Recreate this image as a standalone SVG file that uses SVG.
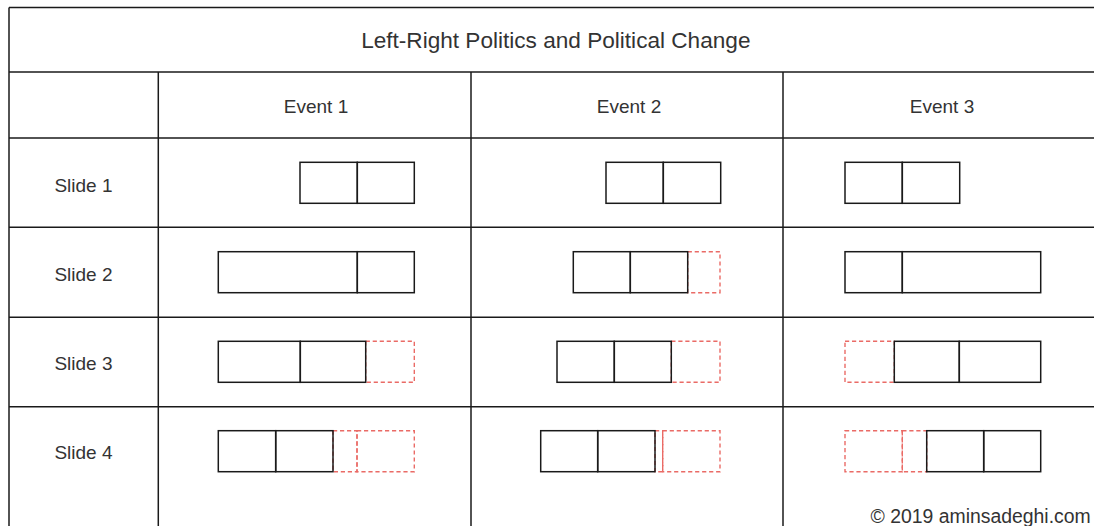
<svg xmlns="http://www.w3.org/2000/svg" width="1094" height="526" viewBox="0 0 1094 526">
  <style>
    .grid { stroke: #1a1a1a; stroke-width: 1.5; fill: none; }
    .box { stroke: #1a1a1a; stroke-width: 1.5; fill: none; }
    .gap { stroke: #EA6B66; stroke-width: 1.4; fill: none; stroke-dasharray: 4.2 2.8; }
    text { font-family: "Liberation Sans", Arial, sans-serif; fill: #333333; }
    .title { font-size: 22.6px; text-anchor: middle; }
    .head { font-size: 19px; text-anchor: middle; }
    .copy { font-size: 19.4px; text-anchor: start; }
  </style>
  <rect x="0" y="0" width="1094" height="526" fill="#ffffff"/>
  <g id="table-grid" class="grid">
    <line x1="9" y1="7.5" x2="1094" y2="7.5"/>
    <line x1="9" y1="72" x2="1094" y2="72"/>
    <line x1="9" y1="138" x2="1094" y2="138"/>
    <line x1="9" y1="227.3" x2="1094" y2="227.3"/>
    <line x1="9" y1="317.3" x2="1094" y2="317.3"/>
    <line x1="9" y1="406.7" x2="1094" y2="406.7"/>
    <line x1="9" y1="7.5" x2="9" y2="526"/>
    <line x1="158.3" y1="72" x2="158.3" y2="526"/>
    <line x1="471" y1="72" x2="471" y2="526"/>
    <line x1="783" y1="72" x2="783" y2="526"/>
  </g>
  <g id="title"><text class="title" x="555.8" y="47.7">Left-Right Politics and Political Change</text></g>
  <g id="event-1-header"><text class="head" x="316" y="112.7">Event 1</text></g>
  <g id="event-2-header"><text class="head" x="629" y="112.7">Event 2</text></g>
  <g id="event-3-header"><text class="head" x="942" y="112.7">Event 3</text></g>
  <g id="slide-1-label"><text class="head" x="83.5" y="191.7">Slide 1</text></g>
  <g id="slide-2-label"><text class="head" x="83.5" y="280.5">Slide 2</text></g>
  <g id="slide-3-label"><text class="head" x="83.5" y="370">Slide 3</text></g>
  <g id="slide-4-label"><text class="head" x="83.5" y="459">Slide 4</text></g>

  <!-- Event 1 -->
  <g id="e1-s1">
    <rect class="box" x="300" y="162.3" width="57.3" height="41"/>
    <rect class="box" x="357.3" y="162.3" width="57" height="41"/>
  </g>
  <g id="e1-s2">
    <rect class="box" x="218.3" y="251.7" width="139" height="41"/>
    <rect class="box" x="357.3" y="251.7" width="57" height="41"/>
  </g>
  <g id="e1-s3">
    <rect class="gap" x="365.7" y="341.3" width="48.6" height="41"/>
    <rect class="box" x="218.3" y="341.3" width="82" height="41"/>
    <rect class="box" x="300.3" y="341.3" width="65.4" height="41"/>
  </g>
  <g id="e1-s4">
    <rect class="gap" x="333" y="430.7" width="24" height="41"/>
    <rect class="gap" x="357" y="430.7" width="57.3" height="41"/>
    <rect class="box" x="218.3" y="430.7" width="57.4" height="41"/>
    <rect class="box" x="275.7" y="430.7" width="57.3" height="41"/>
  </g>

  <!-- Event 2 -->
  <g id="e2-s1">
    <rect class="box" x="606" y="162.3" width="57.3" height="41"/>
    <rect class="box" x="663.3" y="162.3" width="57.4" height="41"/>
  </g>
  <g id="e2-s2">
    <rect class="gap" x="687.7" y="251.7" width="32.3" height="41"/>
    <rect class="box" x="573.3" y="251.7" width="57" height="41"/>
    <rect class="box" x="630.3" y="251.7" width="57.4" height="41"/>
  </g>
  <g id="e2-s3">
    <rect class="gap" x="671.3" y="341.3" width="48.7" height="41"/>
    <rect class="box" x="557" y="341.3" width="57.3" height="41"/>
    <rect class="box" x="614.3" y="341.3" width="57" height="41"/>
  </g>
  <g id="e2-s4">
    <rect class="gap" x="655" y="430.7" width="7.7" height="41"/>
    <rect class="gap" x="662.7" y="430.7" width="57.3" height="41"/>
    <rect class="box" x="540.7" y="430.7" width="57" height="41"/>
    <rect class="box" x="597.7" y="430.7" width="57.3" height="41"/>
  </g>

  <!-- Event 3 -->
  <g id="e3-s1">
    <rect class="box" x="845" y="162.3" width="57.3" height="41"/>
    <rect class="box" x="902.3" y="162.3" width="57.4" height="41"/>
  </g>
  <g id="e3-s2">
    <rect class="box" x="845" y="251.7" width="57.3" height="41"/>
    <rect class="box" x="902.3" y="251.7" width="138.4" height="41"/>
  </g>
  <g id="e3-s3">
    <rect class="gap" x="845" y="341.3" width="49.3" height="41"/>
    <rect class="box" x="894.3" y="341.3" width="65" height="41"/>
    <rect class="box" x="959.3" y="341.3" width="81.4" height="41"/>
  </g>
  <g id="e3-s4">
    <rect class="gap" x="845" y="430.7" width="57.3" height="41"/>
    <rect class="gap" x="902.3" y="430.7" width="24.4" height="41"/>
    <rect class="box" x="926.7" y="430.7" width="57" height="41"/>
    <rect class="box" x="983.7" y="430.7" width="57" height="41"/>
  </g>

  <g id="copyright"><text class="copy" x="870.5" y="522.5">© 2019 aminsadeghi.com</text></g>
  <g id="connectors"></g>
</svg>
